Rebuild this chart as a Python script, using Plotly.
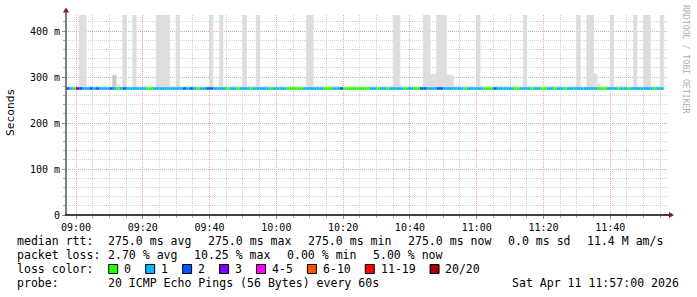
import plotly.graph_objects as go
from datetime import datetime, timedelta

# ---------------- data ----------------
START = datetime(2026, 4, 11, 8, 57)
END = datetime(2026, 4, 11, 11, 57)

# median rtt per minute (ms), 179 one-minute rounds starting 08:57
median_rtt_ms = [
    275.0, 275.0, 275.0, 275.0, 275.0, 275.0, 275.0, 275.0, 275.0, 275.0,
    275.0, 275.0, 275.0, 275.0, 275.0, 275.0, 275.0, 275.0, 275.0, 275.0,
    275.0, 275.0, 275.0, 275.0, 275.0, 275.0, 275.0, 275.0, 275.0, 275.0,
    275.0, 275.0, 275.0, 275.0, 275.0, 275.0, 275.0, 275.0, 275.0, 275.0,
    275.0, 275.0, 275.0, 275.0, 275.0, 275.0, 275.0, 275.0, 275.0, 275.0,
    275.0, 275.0, 275.0, 275.0, 275.0, 275.0, 275.0, 275.0, 275.0, 275.0,
    275.0, 275.0, 275.0, 275.0, 275.0, 275.0, 275.0, 275.0, 275.0, 275.0,
    275.0, 275.0, 275.0, 275.0, 275.0, 275.0, 275.0, 275.0, 275.0, 275.0,
    275.0, 275.0, 275.0, 275.0, 275.0, 275.0, 275.0, 275.0, 275.0, 275.0,
    275.0, 275.0, 275.0, 275.0, 275.0, 275.0, 275.0, 275.0, 275.0, 275.0,
    275.0, 275.0, 275.0, 275.0, 275.0, 275.0, 275.0, 275.0, 275.0, 275.0,
    275.0, 275.0, 275.0, 275.0, 275.0, 275.0, 275.0, 275.0, 275.0, 275.0,
    275.0, 275.0, 275.0, 275.0, 275.0, 275.0, 275.0, 275.0, 275.0, 275.0,
    275.0, 275.0, 275.0, 275.0, 275.0, 275.0, 275.0, 275.0, 275.0, 275.0,
    275.0, 275.0, 275.0, 275.0, 275.0, 275.0, 275.0, 275.0, 275.0, 275.0,
    275.0, 275.0, 275.0, 275.0, 275.0, 275.0, 275.0, 275.0, 275.0, 275.0,
    275.0, 275.0, 275.0, 275.0, 275.0, 275.0, 275.0, 275.0, 275.0, 275.0,
    275.0, 275.0, 275.0, 275.0, 275.0, 275.0, 275.0, 275.0, 275.0,
]

# lost pings (out of 20) per minute
loss_count = [
    2, 1, 0, 3, 2, 1, 1, 2, 1, 2,
    1, 1, 1, 2, 1, 0, 1, 2, 1, 1,
    1, 1, 1, 1, 0, 0, 1, 1, 1, 1,
    1, 1, 1, 1, 1, 2, 1, 2, 1, 0,
    1, 1, 2, 2, 1, 1, 1, 1, 0, 1,
    1, 0, 1, 1, 1, 0, 1, 1, 1, 1,
    1, 0, 1, 1, 1, 1, 0, 0, 0, 0,
    0, 1, 1, 1, 1, 1, 1, 0, 0, 0,
    1, 1, 2, 0, 0, 0, 0, 0, 0, 0,
    0, 1, 1, 0, 1, 1, 0, 1, 1, 1,
    1, 0, 1, 1, 0, 0, 2, 2, 1, 1,
    1, 2, 2, 1, 1, 1, 1, 1, 1, 0,
    1, 1, 1, 1, 1, 0, 0, 0, 2, 1,
    1, 1, 1, 1, 0, 0, 1, 1, 1, 0,
    1, 1, 0, 0, 1, 1, 0, 1, 1, 0,
    1, 1, 1, 1, 1, 1, 1, 1, 1, 0,
    0, 0, 1, 1, 1, 0, 1, 1, 0, 1,
    1, 1, 1, 1, 1, 1, 0, 1, 1,
]

# smoke (ping spread) : minute index and top of the smoke (ms)
smoke_minute = [4, 5, 14, 15, 17, 20, 27, 28, 29, 30, 33, 43, 46, 53, 57, 72, 73,
                98, 99, 107, 108, 109, 110, 111, 112, 113, 114, 115, 123, 137,
                153, 156, 157, 158, 159, 163, 170, 173, 174, 178]
smoke_top_ms = [440, 440, 304, 283, 440, 440, 440, 440, 440, 440, 440, 440, 440, 440, 440, 440, 440,
                440, 440, 440, 440, 306, 306, 440, 440, 440, 304, 304, 440, 440,
                440, 440, 440, 306, 285, 440, 440, 440, 440, 440]

loss_legend_labels = ["0", "1", "2", "3", "4-5", "6-10", "11-19", "20/20"]
loss_legend_upper = [0, 1, 2, 3, 5, 10, 19, 20]

y_tick_vals = [0, 100, 200, 300, 400]
y_tick_text = ["0", "100 m", "200 m", "300 m", "400 m"]

row_median = ["median rtt:", "275.0 ms avg", "275.0 ms max", "275.0 ms min",
              "275.0 ms now", "0.0 ms sd", "11.4 M am/s"]
row_loss = ["packet loss:", "2.70 % avg", "10.25 % max", "0.00 % min", "5.00 % now"]
row_probe = ["probe:", "20 ICMP Echo Pings (56 Bytes) every 60s"]
stamp = "Sat Apr 11 11:57:00 2026"
watermark = "RRDTOOL / TOBI OETIKER"

# ---------------- styling ----------------
loss_colors = ["#26ff00", "#00b8ff", "#0059ff", "#7e00ff", "#ff00ff", "#ff5500", "#ff0000", "#a00000"]
MONO = "DejaVu Sans Mono"
W, H = 697, 297
L, R, T, B = 66, 667, 15, 215
Y_MAX = 434.8
darker_smoke = {14}


def fx(px):
    return (px - L) / (R - L)


def fy(py):
    return (B - py) / (B - T)


def minute_start(i):
    return START + timedelta(minutes=i)


fig = go.Figure()

# smoke bars
smoke_x, smoke_base, smoke_h, smoke_col = [], [], [], []
for m, top in zip(smoke_minute, smoke_top_ms):
    smoke_x.append(minute_start(m) + timedelta(seconds=30))
    smoke_base.append(median_rtt_ms[m])
    smoke_h.append(top - median_rtt_ms[m])
    smoke_col.append("#c8c8c8" if m in darker_smoke else "#dddddd")
fig.add_trace(go.Bar(x=smoke_x, y=smoke_h, base=smoke_base, width=60000,
                     marker=dict(color=smoke_col, line=dict(width=0.8, color=smoke_col)),
                     showlegend=False, hoverinfo="skip"))


def loss_class(n):
    for k, up in enumerate(loss_legend_upper):
        if n <= up:
            return k
    return len(loss_legend_upper) - 1


# median line coloured by loss
for k, col in enumerate(loss_colors):
    xs, ys = [], []
    for i, (v, n) in enumerate(zip(median_rtt_ms, loss_count)):
        if loss_class(n) == k:
            xs += [minute_start(i), minute_start(i + 1), None]
            ys += [v, v, None]
    if xs:
        fig.add_trace(go.Scatter(x=xs, y=ys, mode="lines",
                                 line=dict(color=col, width=2.6),
                                 showlegend=False, hoverinfo="skip"))

major_grid = "#e8a8a8"
minor_grid = "#d2d2d2"

fig.update_layout(
    width=W, height=H,
    margin=dict(l=L, r=W - R, t=T, b=H - B, pad=0),
    paper_bgcolor="white", plot_bgcolor="white",
    barmode="overlay",
    showlegend=False,
    font=dict(family=MONO, size=10, color="#000"),
    xaxis=dict(
        type="date", range=[START, END],
        tick0=datetime(2026, 4, 11, 9, 0), dtick=20 * 60 * 1000,
        tickformat="%H:%M",
        showgrid=True, gridcolor=major_grid, griddash="1px,1px", gridwidth=1,
        ticks="outside", ticklen=3, tickcolor="#888",
        tickfont=dict(family=MONO, size=10, color="#000"),
        showline=False, zeroline=False,
        minor=dict(dtick=5 * 60 * 1000, showgrid=True, gridcolor=minor_grid,
                   griddash="1px,1px", gridwidth=1, ticks="outside", ticklen=2,
                   tickcolor="#aaa"),
    ),
    yaxis=dict(
        range=[0, Y_MAX],
        tickvals=y_tick_vals, ticktext=y_tick_text,
        showgrid=True, gridcolor=major_grid, griddash="1px,1px", gridwidth=1,
        ticks="outside", ticklen=3, tickcolor="#888",
        tickfont=dict(family=MONO, size=10, color="#000"),
        showline=False, zeroline=False,
        minor=dict(dtick=20, showgrid=True, gridcolor=minor_grid,
                   griddash="1px,1px", gridwidth=1, ticks="outside", ticklen=2,
                   tickcolor="#aaa"),
    ),
)

shapes = []
# axes
shapes.append(dict(type="line", xref="paper", yref="paper", x0=fx(66), x1=fx(66),
                   y0=fy(215), y1=fy(11), line=dict(color="#555", width=1.5), layer="above"))
shapes.append(dict(type="line", xref="paper", yref="paper", x0=fx(65), x1=fx(670),
                   y0=fy(215), y1=fy(215), line=dict(color="#000", width=1.5), layer="above"))
# arrows
shapes.append(dict(type="path", xref="paper", yref="paper",
                   path=f"M {fx(63)},{fy(12.5)} L {fx(69)},{fy(12.5)} L {fx(66)},{fy(7.5)} Z",
                   fillcolor="#8b1a1a", line=dict(width=0), layer="above"))
shapes.append(dict(type="path", xref="paper", yref="paper",
                   path=f"M {fx(669)},{fy(212)} L {fx(669)},{fy(218)} L {fx(674)},{fy(215)} Z",
                   fillcolor="#8b1a1a", line=dict(width=0), layer="above"))

annotations = []
CW = 6.96
LEG = 11.56


def ann(text, px, py, xanchor="left", size=LEG, color="#000", angle=0):
    annotations.append(dict(text=text, xref="paper", yref="paper", x=fx(px), y=fy(py),
                            xanchor=xanchor, yanchor="middle", showarrow=False,
                            borderpad=0, textangle=angle,
                            font=dict(family=MONO, size=size, color=color)))


def row(items, py):
    ann(items[0], 16, py)
    pos = 106.7
    for it in items[1:]:
        ann(it, pos, py)
        pos += len(it) * CW + 16.5


row(row_median, 241)
row(row_loss, 255)
ann(row_probe[0], 16, 283)
ann(row_probe[1], 106.7, 283)
ann(stamp, 680, 283, xanchor="right")

# loss colour legend
ann("loss color:", 16, 269)
bx = 108.7
for lab, col in zip(loss_legend_labels, loss_colors):
    shapes.append(dict(type="rect", xref="paper", yref="paper",
                       x0=fx(bx), x1=fx(bx + 9), y0=fy(273.5), y1=fy(264.5),
                       fillcolor=col, line=dict(color="#000", width=1), layer="above"))
    ann(lab, bx + 14.3, 269)
    bx = bx + 14.3 + len(lab) * CW + 15.7

ann("Seconds", 10, 113, xanchor="center", size=11.2, angle=-90)
ann(watermark, 686, 59, xanchor="center", size=8.2, color="#b0b0b0", angle=90)

fig.update_layout(shapes=shapes, annotations=annotations)
fig.write_html("out.html")
